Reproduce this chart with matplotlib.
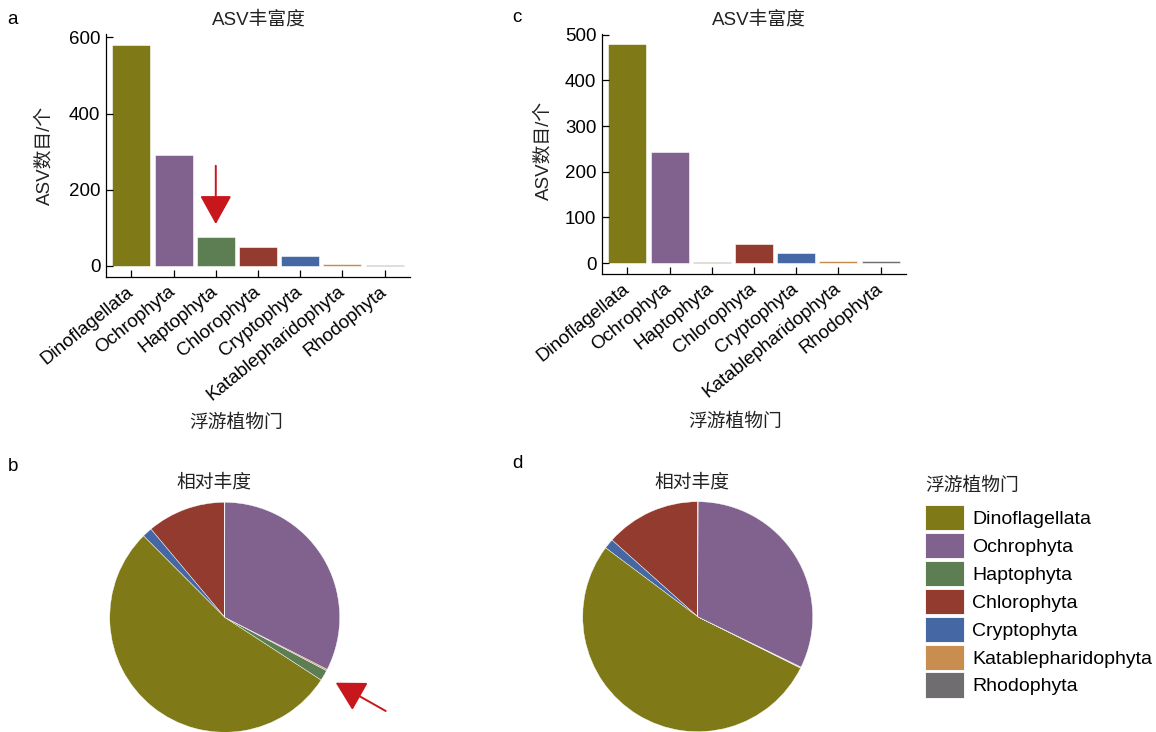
import numpy as np
import matplotlib
matplotlib.use("Agg")
import matplotlib.pyplot as plt
from matplotlib.patches import Patch

plt.rcParams['font.family'] = ['Liberation Sans', 'Noto Sans CJK SC']
plt.rcParams['font.size'] = 13.5

phyla = ["Dinoflagellata", "Ochrophyta", "Haptophyta", "Chlorophyta",
         "Cryptophyta", "Katablepharidophyta", "Rhodophyta"]
colors = ["#7F7A17", "#81628F", "#5C7E52", "#943B2F",
          "#4567A3", "#C98D50", "#6F6D70"]

# ASV counts per phylum
asv_a = [580, 292, 75, 49, 26, 4, 2]
asv_c = [479, 244, 2, 42, 21, 4, 5]

# relative abundance (%) per phylum
rel_b = [53.4, 32.5, 1.5, 11.1, 1.4, 0.2, 0.02]
rel_d = [52.9, 32.2, 0.05, 13.4, 1.4, 0.1, 0.05]

W, H = 1156, 732
fig = plt.figure(figsize=(W / 100, H / 100), dpi=100)
txt_col = "#222222"


def rect(x, y, w, h):
    # pixel box (top-left origin) -> figure fraction
    return [x / W, 1 - (y + h) / H, w / W, h / H]


def label(x, y, s, **kw):
    kw.setdefault("ha", "center")
    fig.text(x / W, 1 - y / H, s, va="center", color=txt_col, **kw)


def bar_panel(box, vals, yticks):
    ax = fig.add_axes(rect(*box))
    x = np.arange(len(phyla))
    ax.bar(x, vals, width=0.9, color=colors, edgecolor="white", linewidth=0.4)
    top = max(vals)
    ax.set_xlim(-0.6, len(phyla) - 0.4)
    ax.set_ylim(-0.05 * top, 1.05 * top)
    ax.set_yticks(yticks)
    ax.set_xticks(x)
    ax.set_xticklabels(phyla, rotation=39, ha="right", va="center",
                       rotation_mode="anchor", fontsize=13)
    for s in ("top", "right"):
        ax.spines[s].set_visible(False)
    for s in ("left", "bottom"):
        ax.spines[s].set_linewidth(0.9)
    ax.tick_params(direction="in", length=5, width=0.9, labelsize=13.5, pad=4)
    ax.tick_params(axis="x", pad=9)
    return ax


def pie_panel(box, vals):
    ax = fig.add_axes(rect(*box))
    # wedges in alphabetical order, counter-clockwise from 12 o'clock
    order = sorted(range(len(phyla)), key=lambda i: phyla[i])
    ax.pie([vals[i] for i in order], colors=[colors[i] for i in order],
           startangle=90, counterclock=True, radius=1,
           wedgeprops=dict(edgecolor="white", linewidth=0.3))
    ax.set_xlim(-1, 1)
    ax.set_ylim(-1, 1)
    ax.axis("off")
    return ax


ax_a = bar_panel((106, 34, 304, 243), asv_a, [0, 200, 400, 600])
ax_c = bar_panel((602, 33.5, 304, 240.5), asv_c, [0, 100, 200, 300, 400, 500])

pie_panel((109.7, 502.3, 230, 230), rel_b)
pie_panel((582.7, 501.7, 230, 230), rel_d)

# panel letters
for x, y, s in [(13, 19, "a"), (517, 17, "c"), (13, 466, "b"), (517, 464, "d")]:
    fig.text(x / W, 1 - y / H, s, ha="center", va="center", color="black", fontsize=13.5)

label(259, 20, "ASV丰富度")
label(759, 20, "ASV丰富度")
label(45, 155, "ASV数目/个", rotation=90)
label(544, 150, "ASV数目/个", rotation=90)
label(236, 423, "浮游植物门")
label(735, 422, "浮游植物门")
label(214, 483, "相对丰度")
label(692, 483, "相对丰度")

# highlight arrows
red = "#C8171C"
head = "-|>,head_length=0.9,head_width=0.5"
ax_a.annotate("", xy=(2, 110), xytext=(2, 263),
              arrowprops=dict(arrowstyle=head, mutation_scale=20, color=red,
                              lw=1.4, shrinkA=0, shrinkB=0))
ax_a.annotate("", xy=(335.7, H - 682.7), xytext=(385.7, H - 711),
              xycoords="figure pixels", textcoords="figure pixels",
              arrowprops=dict(arrowstyle=head, mutation_scale=20, color=red,
                              lw=1.4, shrinkA=0, shrinkB=0),
              annotation_clip=False)

# legend
label(925, 486, "浮游植物门", ha="left", fontsize=13.5)
handles = [Patch(facecolor=c, edgecolor="white", linewidth=0.6) for c in colors]
leg = fig.legend(handles, phyla, loc="upper left",
                 bbox_to_anchor=(925 / W, 1 - 505 / H), frameon=False,
                 handlelength=1.985, handleheight=1.625, handletextpad=0.43,
                 labelspacing=0.134, borderpad=0, borderaxespad=0,
                 fontsize=14)

fig.savefig("out.png", dpi=100)
